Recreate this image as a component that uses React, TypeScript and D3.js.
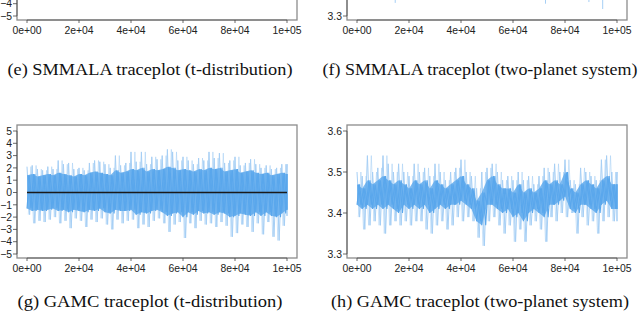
import * as d3 from "d3";
import { useEffect, useRef } from "react";

// sample positions (iterations) at which the trace envelope was read
const iters = d3.range(0, 100001, 2000);
const xTickVals = [0, 20000, 40000, 60000, 80000, 100000];
const xTickLabels = ["0e+00", "2e+04", "4e+04", "6e+04", "8e+04", "1e+05"];

const tTicks = [-5, -4, -3, -2, -1, 0, 1, 2, 3, 4, 5];
const planetTicks = [3.3, 3.4, 3.5, 3.6];

// (g) GAMC, t-distribution
const gSpikeHi = [2.1, 2.2, 1.9, 1.8, 2.1, 1.9, 2.6, 2.3, 2.4, 1.9, 2.0, 1.8, 2.4, 2.6, 2.5, 2.3, 2.0, 3.0, 2.2, 2.4, 3.3, 2.5, 3.3, 2.3, 2.9, 2.7, 3.0, 3.5, 3.3, 2.6, 2.9, 2.6, 2.3, 2.8, 2.6, 3.3, 2.8, 3.2, 2.4, 2.6, 2.9, 2.2, 2.4, 2.7, 2.3, 2.0, 2.2, 1.9, 2.0, 2.3, 2.3];
const gSpikeLo = [-1.8, -2.5, -2.3, -2.4, -2.2, -2.0, -2.5, -2.3, -2.9, -2.1, -2.3, -2.8, -2.2, -2.4, -2.1, -2.6, -3.0, -2.2, -2.5, -2.3, -2.2, -2.9, -2.6, -2.8, -2.3, -2.1, -2.5, -3.2, -2.6, -2.4, -3.7, -2.5, -2.9, -2.3, -2.6, -2.5, -2.8, -2.4, -2.7, -3.6, -3.3, -2.6, -2.8, -3.2, -2.5, -3.4, -2.4, -3.6, -3.9, -2.7, -1.9];
const gCoreHi = [1.4, 1.5, 1.3, 1.4, 1.5, 1.4, 1.6, 1.5, 1.4, 1.3, 1.5, 1.4, 1.6, 1.7, 1.6, 1.5, 1.4, 1.8, 1.6, 1.7, 1.9, 1.8, 2.0, 1.7, 1.9, 1.8, 1.9, 2.1, 2.0, 1.8, 1.9, 1.8, 1.7, 1.9, 1.8, 2.0, 1.9, 2.0, 1.7, 1.8, 1.9, 1.6, 1.7, 1.8, 1.6, 1.5, 1.6, 1.4, 1.5, 1.6, 1.5];
const gCoreLo = [-1.3, -1.5, -1.4, -1.5, -1.4, -1.3, -1.5, -1.4, -1.6, -1.4, -1.5, -1.6, -1.4, -1.5, -1.3, -1.6, -1.7, -1.4, -1.5, -1.5, -1.4, -1.8, -1.6, -1.7, -1.5, -1.4, -1.6, -1.9, -1.7, -1.6, -2.0, -1.6, -1.8, -1.5, -1.7, -1.6, -1.8, -1.6, -1.7, -2.0, -1.9, -1.7, -1.8, -1.9, -1.6, -1.9, -1.6, -1.9, -2.0, -1.7, -1.4];

// (h) GAMC, two-planet system
const hSpikeHi = [3.50, 3.49, 3.54, 3.50, 3.51, 3.54, 3.52, 3.50, 3.52, 3.50, 3.49, 3.52, 3.50, 3.51, 3.49, 3.52, 3.50, 3.48, 3.50, 3.51, 3.53, 3.50, 3.49, 3.46, 3.50, 3.51, 3.52, 3.50, 3.48, 3.49, 3.48, 3.50, 3.48, 3.49, 3.47, 3.49, 3.51, 3.50, 3.52, 3.50, 3.53, 3.48, 3.47, 3.51, 3.50, 3.49, 3.48, 3.53, 3.54, 3.50, 3.50];
const hSpikeLo = [3.39, 3.36, 3.37, 3.38, 3.37, 3.35, 3.37, 3.38, 3.37, 3.38, 3.37, 3.38, 3.38, 3.36, 3.35, 3.37, 3.38, 3.36, 3.37, 3.39, 3.38, 3.39, 3.38, 3.34, 3.32, 3.38, 3.39, 3.37, 3.35, 3.37, 3.33, 3.36, 3.33, 3.37, 3.38, 3.36, 3.33, 3.39, 3.38, 3.40, 3.39, 3.40, 3.35, 3.39, 3.37, 3.38, 3.35, 3.38, 3.39, 3.38, 3.38];
const hCoreHi = [3.47, 3.46, 3.48, 3.47, 3.48, 3.49, 3.48, 3.47, 3.48, 3.47, 3.46, 3.48, 3.47, 3.48, 3.46, 3.48, 3.47, 3.46, 3.47, 3.48, 3.49, 3.47, 3.46, 3.43, 3.45, 3.48, 3.49, 3.47, 3.46, 3.46, 3.45, 3.47, 3.45, 3.46, 3.45, 3.46, 3.48, 3.47, 3.48, 3.47, 3.50, 3.46, 3.45, 3.47, 3.48, 3.47, 3.46, 3.48, 3.49, 3.47, 3.47];
const hCoreLo = [3.42, 3.41, 3.42, 3.41, 3.42, 3.41, 3.42, 3.41, 3.40, 3.42, 3.41, 3.42, 3.41, 3.42, 3.40, 3.41, 3.42, 3.41, 3.42, 3.42, 3.43, 3.42, 3.41, 3.38, 3.37, 3.42, 3.42, 3.41, 3.40, 3.41, 3.39, 3.40, 3.38, 3.40, 3.41, 3.40, 3.39, 3.42, 3.42, 3.43, 3.44, 3.41, 3.40, 3.42, 3.42, 3.41, 3.40, 3.42, 3.43, 3.41, 3.41];

// (f) SMMALA, two-planet system: only the lowest excursions reach into view
const fSpikeIters = [14700, 72500, 89200, 94500];
const fSpikeLo = [3.332, 3.330, 3.334, 3.317];

const LIGHT = "#a6cff5";
const CORE = "#5aa7ec";

const App = () => {
  const ref = useRef(null);

  useEffect(() => {
    const svg = d3.select(ref.current);
    svg.selectAll("*").remove();

    const panel = (opt) => {
      const { left, shift, domain, ticks, fmt } = opt;
      const x = d3.scaleLinear().domain([0, 100000]).range([left + 10, left + 270]);
      const y = d3.scaleLinear().domain(domain).range([254 + shift, 131 + shift]);
      const g = svg.append("g");
      const id = "clip" + opt.name;
      svg.append("clipPath").attr("id", id)
        .append("rect").attr("x", left).attr("y", 125 + shift).attr("width", 280).attr("height", 133);
      const plot = g.append("g").attr("clip-path", "url(#" + id + ")");
      const xt = (t) => x(Math.min(t, 100000));

      if (opt.hi) {
        const zig = (a, b, off) =>
          d3.line()(iters.flatMap((t, i) => [[xt(t + off), y(a[i])], [xt(t + off + 1000), y(b[i])]]));
        plot.append("path").attr("d", zig(opt.hi, opt.lo, 0))
          .attr("fill", "none").attr("stroke", LIGHT).attr("stroke-width", 1);
        plot.append("path").attr("d", zig(opt.lo, opt.hi, 500))
          .attr("fill", "none").attr("stroke", LIGHT).attr("stroke-width", 0.7).attr("opacity", 0.8);
        plot.append("path")
          .attr("d", d3.area().x((t) => x(t)).y0((t, i) => y(opt.coreLo[i])).y1((t, i) => y(opt.coreHi[i]))(iters))
          .attr("fill", CORE).attr("opacity", 0.8);
        plot.append("path").attr("d", zig(opt.coreHi, opt.coreLo, 500))
          .attr("fill", "none").attr("stroke", CORE).attr("stroke-width", 1.1);
        plot.append("path").attr("d", zig(opt.coreLo, opt.coreHi, 0))
          .attr("fill", "none").attr("stroke", CORE).attr("stroke-width", 1.1);
      }
      if (opt.spikes) {
        opt.spikes.forEach((t, i) => {
          plot.append("line").attr("x1", x(t)).attr("x2", x(t))
            .attr("y1", y(3.42)).attr("y2", y(opt.spikeLo[i]))
            .attr("stroke", LIGHT).attr("stroke-width", 1);
        });
      }
      if (opt.zeroLine) {
        g.append("line").attr("x1", x(0)).attr("x2", x(100000))
          .attr("y1", y(0)).attr("y2", y(0)).attr("stroke", "#1a1a1a").attr("stroke-width", 1.5);
      }

      g.append("rect").attr("x", left).attr("y", 125 + shift).attr("width", 280).attr("height", 133)
        .attr("fill", "none").attr("stroke", "#8c8c8c").attr("stroke-width", 1.3);

      // y axis
      g.append("line").attr("x1", left).attr("x2", left)
        .attr("y1", y(ticks[0])).attr("y2", y(ticks[ticks.length - 1]))
        .attr("stroke", "#555").attr("stroke-width", 0.8);
      ticks.forEach((v) => {
        g.append("line").attr("x1", left - 4).attr("x2", left).attr("y1", y(v)).attr("y2", y(v))
          .attr("stroke", "#444").attr("stroke-width", 0.8);
        if (y(v) < 2) return; // above the page
        g.append("text").attr("x", left - 5).attr("y", y(v) + 3.7)
          .attr("text-anchor", "end").attr("font-size", 10.4).attr("fill", "#222")
          .attr("font-family", "Liberation Sans, Arial, sans-serif").text(fmt(v));
      });

      // x axis
      g.append("line").attr("x1", x(0)).attr("x2", x(100000))
        .attr("y1", 258 + shift).attr("y2", 258 + shift).attr("stroke", "#555").attr("stroke-width", 0.8);
      xTickVals.forEach((v, i) => {
        g.append("line").attr("x1", x(v)).attr("x2", x(v)).attr("y1", 258 + shift).attr("y2", 261 + shift)
          .attr("stroke", "#444").attr("stroke-width", 0.8);
        g.append("text").attr("x", x(v)).attr("y", 271.5 + shift)
          .attr("text-anchor", "middle").attr("font-size", 10.4).attr("fill", "#222")
          .attr("font-family", "Liberation Sans, Arial, sans-serif").text(xTickLabels[i]);
      });

      svg.append("text").attr("x", opt.capX).attr("y", opt.capY)
        .attr("text-anchor", "middle").attr("font-size", 16.5).attr("fill", "#111")
        .attr("font-family", "Liberation Serif, Times New Roman, serif")
        .attr("textLength", opt.capW).attr("lengthAdjust", "spacingAndGlyphs")
        .text(opt.caption);
    };

    const tFmt = (v) => (v < 0 ? "\u2212" + Math.abs(v) : String(v));
    const pFmt = (v) => v.toFixed(1);

    panel({ name: "e", left: 17, shift: -238, domain: [-5, 5], ticks: tTicks, fmt: tFmt, zeroLine: true,
      caption: "(e) SMMALA traceplot (t-distribution)", capX: 150, capY: 75, capW: 285 });
    panel({ name: "f", left: 347, shift: -238, domain: [3.3, 3.6], ticks: planetTicks, fmt: pFmt,
      spikes: fSpikeIters, spikeLo: fSpikeLo,
      caption: "(f) SMMALA traceplot (two-planet system)", capX: 480, capY: 75, capW: 315 });
    panel({ name: "g", left: 17, shift: 0, domain: [-5, 5], ticks: tTicks, fmt: tFmt, zeroLine: true,
      hi: gSpikeHi, lo: gSpikeLo, coreHi: gCoreHi, coreLo: gCoreLo,
      caption: "(g) GAMC traceplot (t-distribution)", capX: 150, capY: 307, capW: 265 });
    panel({ name: "h", left: 347, shift: 0, domain: [3.3, 3.6], ticks: planetTicks, fmt: pFmt,
      hi: hSpikeHi, lo: hSpikeLo, coreHi: hCoreHi, coreLo: hCoreLo,
      caption: "(h) GAMC traceplot (two-planet system)", capX: 480, capY: 307, capW: 298 });
  }, []);

  return (
    <svg ref={ref} width={640} height={315}
      style={{ position: "absolute", left: 0, top: 0, background: "#fff" }} />
  );
};

export default App;
